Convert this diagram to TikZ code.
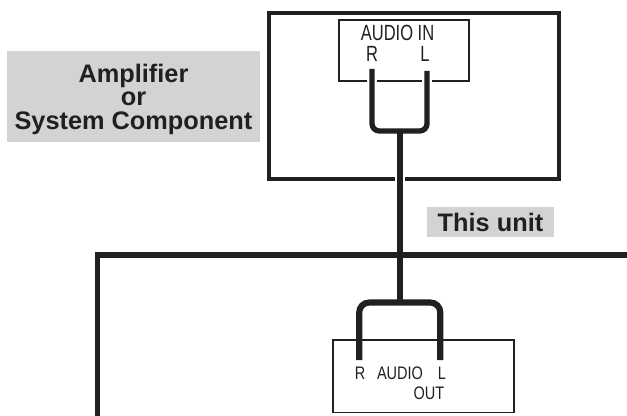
\documentclass[tikz,border=0pt]{standalone}
\usepackage{fontspec}
\setmainfont{Liberation Sans}
\newfontfamily\narrowin[FakeStretch=0.75]{Liberation Sans}
\newfontfamily\narrowout[FakeStretch=0.8]{Liberation Sans}
\usepackage{xcolor}
\definecolor{labelgrey}{RGB}{209,211,212}
\definecolor{inkblack}{RGB}{35,31,32}
\tikzset{
  case/.style={draw=inkblack, line width=3pt},
  unitcase/.style={draw=inkblack, line width=3.8pt},
  panel/.style={draw=inkblack, line width=1.1pt},
  stem/.style={draw=inkblack, line width=3.8pt},
  greylabel/.style={fill=labelgrey, text=inkblack, align=center, inner sep=0pt,
    font=\bfseries\fontsize{19}{17.6}\selectfont},
  intext/.style={inner sep=0pt, text=inkblack, font=\narrowin\fontsize{16.5}{16.5}\selectfont},
  outtext/.style={inner sep=0pt, text=inkblack, font=\narrowout\fontsize{13.6}{13.6}\selectfont}
}
\begin{document}
\begin{tikzpicture}[x=0.75pt, y=-0.75pt]
  \useasboundingbox (0,0) rectangle (627,416);
  % amplifier
  \draw[case] (268.5,13.5) rectangle (559,179.5);
  \draw[panel] (339,20) rectangle (469,81);
  \node[intext] (audioin) at (397.5,33) {AUDIO IN};
  \node[intext] (inr) at (372,54) {R};
  \node[intext] (inl) at (425,54) {L};
  \node[greylabel, minimum width=189.75pt, minimum height=68.25pt] (amp) at (133.5,96.5) {\rule{0pt}{18pt}Amplifier\\or\\System Component};
  % this unit
  \node[greylabel, minimum width=95.25pt, minimum height=22.5pt] (unit) at (490.5,222) {This unit};
  \draw[unitcase] (97.3,416) -- (97.3,255) -- (627,255);
  \draw[panel] (333,340) rectangle (514,412.7);
  \node[outtext] (outr) at (360,373) {R};
  \node[outtext] (audioout) at (400,373) {AUDIO};
  \node[outtext] (outl) at (442,373) {L};
  \node[outtext] (out) at (429,393) {OUT};
  % cables
  \coordinate (topr) at (372,69);
  \coordinate (topl) at (427,71);
  \coordinate (topj) at (400,131);
  \coordinate (botj) at (400,302.5);
  \coordinate (botr) at (359.2,360);
  \coordinate (botl) at (440.3,360);
  \draw[white, line width=7.5pt] (372,78) -- (372,84) (427,78) -- (427,84) (400,175) -- (400,184);
  \draw[draw=inkblack, line width=4pt, rounded corners=5.5pt] (topr) |- (topj) -| (topl);
  \draw[draw=inkblack, line width=4.6pt, rounded corners=7.5pt] (botr) |- (botj) -| (botl);
  \draw[stem] (topj) -- (botj);
\end{tikzpicture}
\end{document}
